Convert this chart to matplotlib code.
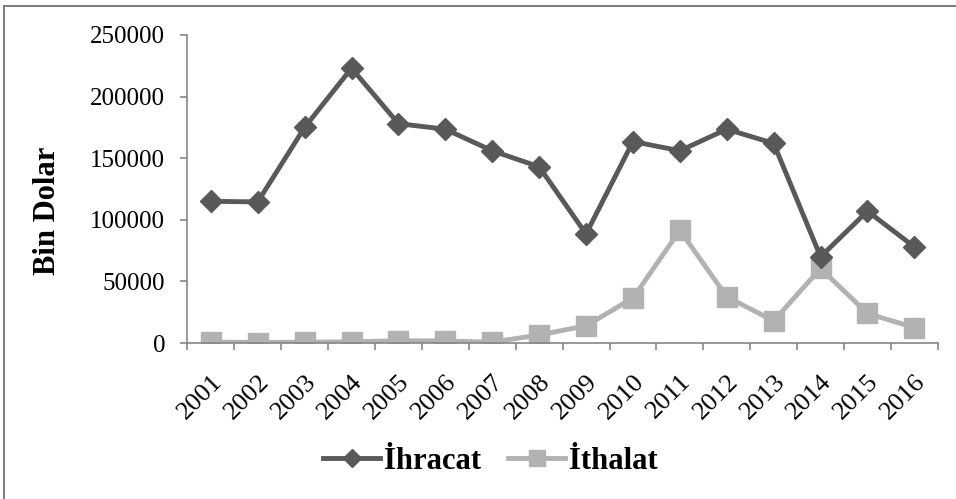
import matplotlib.pyplot as plt
from matplotlib.patches import Rectangle

plt.rcParams['font.family'] = ['Liberation Serif', 'DejaVu Serif']

years = ['2001', '2002', '2003', '2004', '2005', '2006', '2007', '2008',
         '2009', '2010', '2011', '2012', '2013', '2014', '2015', '2016']
ihracat = [115000, 114500, 175000, 223000, 178000, 173500, 156000, 143000,
           88500, 163500, 156000, 173500, 162000, 70000, 107000, 78000]
ithalat = [800, 400, 700, 1000, 1800, 1700, 700, 6500,
           14000, 36500, 91500, 37500, 18000, 60500, 24000, 12500]

fig = plt.figure(figsize=(9.56, 4.99), dpi=100)
ax = fig.add_axes([0.196, 0.3126, 0.785, 0.6174])

x = list(range(len(years)))
ax.plot(x, ihracat, color='#595959', lw=3.5, marker='D', markersize=11,
        label='İhracat', zorder=3)
ax.plot(x, ithalat, color='#b2b2b2', lw=3.5, marker='s', markersize=14,
        label='İthalat', zorder=2)

ax.set_xlim(-0.5, len(years) - 0.5)
ax.set_ylim(0, 250000)
ax.set_yticks(range(0, 250001, 50000))
ax.set_xticks(x)
ax.set_xticklabels(years, rotation=45, ha='right', va='top',
                   rotation_mode='anchor', fontsize=19)
ax.set_xticks([i - 0.5 for i in range(len(years) + 1)], minor=True)
ax.tick_params(axis='x', which='major', length=0, pad=20)
ax.tick_params(axis='x', which='minor', length=5, color='#868686', width=1.2)
ax.tick_params(axis='y', length=5, color='#868686', width=1.2, labelsize=18,
               pad=11)

for s in ['top', 'right']:
    ax.spines[s].set_visible(False)
for s in ['left', 'bottom']:
    ax.spines[s].set_color('#868686')
    ax.spines[s].set_linewidth(1.2)

ax.set_ylabel('Bin Dolar', fontsize=22, fontweight='bold')
ax.yaxis.set_label_coords(-0.167, 0.43)

fig.legend(loc='center', bbox_to_anchor=(0.513, 0.075), ncol=2, frameon=False,
           prop={'size': 22, 'weight': 'bold'}, handlelength=1.85,
           handletextpad=0.13, columnspacing=0.9, markerscale=0.85)

# outer frame
fig.add_artist(Rectangle((4 / 956, -0.1), 1.2, 1.1 - 6 / 499,
                         transform=fig.transFigure, fill=False,
                         edgecolor='#7f7f7f', lw=1.5))

fig.savefig('out.png', dpi=100)
